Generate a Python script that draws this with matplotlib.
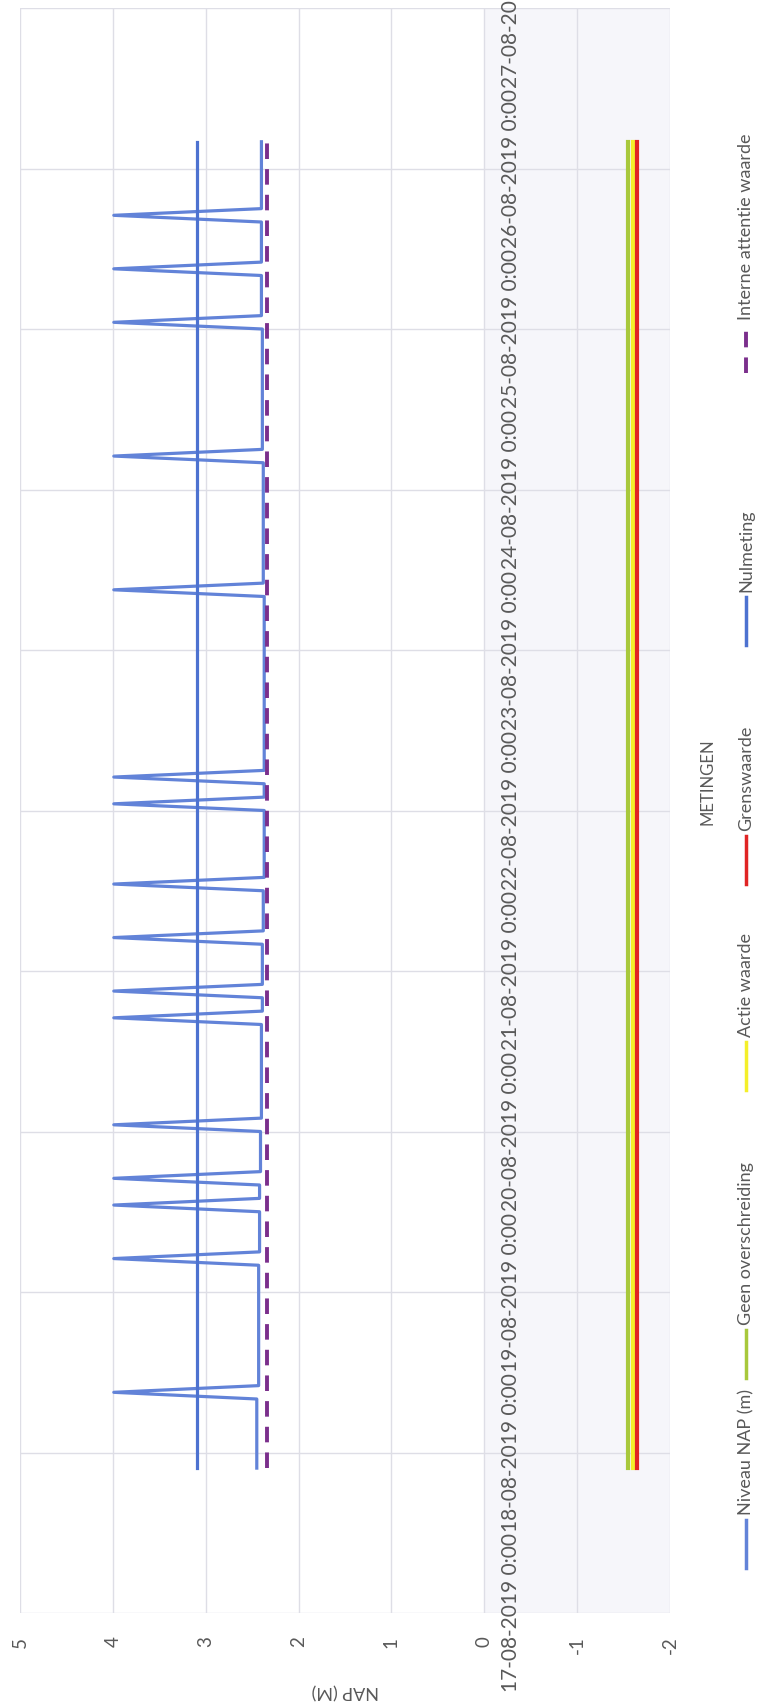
import matplotlib
matplotlib.use('Agg')
import matplotlib.pyplot as plt
from matplotlib.lines import Line2D
import pandas as pd

plt.rcParams['font.family'] = ['Lato', 'DejaVu Sans']

# category axis (one tick per day)
date_ticks = pd.date_range('2019-08-17', '2019-08-27', freq='D')
date_labels = [d.strftime('%d-%m-%Y') + ' 0:00' for d in date_ticks]
value_ticks = [5, 4, 3, 2, 1, 0, -1, -2]

# Niveau NAP (m) - hourly readings with short peaks
niveau_time = [
    '2019-08-17 21:40',
    '2019-08-18 08:00', '2019-08-18 09:00', '2019-08-18 10:00',
    '2019-08-19 04:00', '2019-08-19 05:00', '2019-08-19 06:00',
    '2019-08-19 12:00', '2019-08-19 13:00', '2019-08-19 14:00',
    '2019-08-19 16:00', '2019-08-19 17:00', '2019-08-19 18:00',
    '2019-08-20 00:00', '2019-08-20 01:00', '2019-08-20 02:00',
    '2019-08-20 16:00', '2019-08-20 17:00', '2019-08-20 18:00',
    '2019-08-20 20:00', '2019-08-20 21:00', '2019-08-20 22:00',
    '2019-08-21 04:00', '2019-08-21 05:00', '2019-08-21 06:00',
    '2019-08-21 12:00', '2019-08-21 13:00', '2019-08-21 14:00',
    '2019-08-22 00:00', '2019-08-22 01:00', '2019-08-22 02:00',
    '2019-08-22 04:00', '2019-08-22 05:00', '2019-08-22 06:00',
    '2019-08-23 08:00', '2019-08-23 09:00', '2019-08-23 10:00',
    '2019-08-24 04:00', '2019-08-24 05:00', '2019-08-24 06:00',
    '2019-08-25 00:00', '2019-08-25 01:00', '2019-08-25 02:00',
    '2019-08-25 08:00', '2019-08-25 09:00', '2019-08-25 10:00',
    '2019-08-25 16:00', '2019-08-25 17:00', '2019-08-25 18:00',
    '2019-08-26 04:00',
]
niveau_nap = [
    2.45,
    2.45, 3.99, 2.43,
    2.43, 3.99, 2.42,
    2.42, 3.99, 2.42,
    2.42, 3.99, 2.41,
    2.41, 3.99, 2.40,
    2.40, 3.99, 2.39,
    2.39, 3.99, 2.39,
    2.39, 3.99, 2.38,
    2.38, 3.99, 2.37,
    2.37, 3.99, 2.37,
    2.37, 3.99, 2.37,
    2.37, 3.99, 2.38,
    2.38, 3.99, 2.39,
    2.39, 3.99, 2.40,
    2.40, 3.99, 2.40,
    2.40, 3.99, 2.40,
    2.40,
]

# reference levels (start and end of the period)
ref_time = ['2019-08-17 21:40', '2019-08-26 04:00']
geen_overschreiding = [-1.55, -1.55]
actie_waarde = [-1.60, -1.60]
grenswaarde = [-1.645, -1.645]
nulmeting = [3.09, 3.09]
interne_attentie = [2.34, 2.34]

niveau_time = pd.to_datetime(niveau_time)
ref_time = pd.to_datetime(ref_time)

W, H = 759, 1703
fig = plt.figure(figsize=(W / 100, H / 100), dpi=100)
ax = fig.add_axes([20 / W, (H - 1613) / H, 650 / W, 1605 / H])

grey = '#595959'
ax.axvspan(0, -2, color='#f6f6fa', zorder=0, lw=0)

ax.plot(niveau_nap, niveau_time, color='#6283d8', lw=2.3, solid_joinstyle='round')
ax.plot(geen_overschreiding, ref_time, color='#a8c83c', lw=3)
ax.plot(actie_waarde, ref_time, color='#f4ef2a', lw=3)
ax.plot(grenswaarde, ref_time, color='#e02424', lw=3)
ax.plot(nulmeting, ref_time, color='#4d72d0', lw=2.3)
ax.plot(interne_attentie, ref_time, color='#7b2f8c', lw=2.8, dashes=(4, 2.6))

ax.set_xlim(5, -2)
ax.set_ylim(date_ticks[0], date_ticks[-1])
ax.set_xticks(value_ticks)
ax.set_xticklabels([str(v) for v in value_ticks])
ax.set_yticks(date_ticks)
ax.set_yticklabels(date_labels)
ax.grid(True, color='#dedee6', lw=1)
ax.set_axisbelow(True)
for s in ax.spines.values():
    s.set_visible(False)

ax.tick_params(axis='x', length=0, pad=17, labelsize=13.5, labelcolor=grey, labelrotation=90)

# date labels sit next to the value 0 line
ax.yaxis.tick_right()
ax.spines['right'].set_position(('data', 0))
ax.tick_params(axis='y', length=0, pad=12, labelsize=15, labelcolor=grey, labelrotation=90)
for lab in ax.get_yticklabels():
    lab.set_va('center')

ax.set_xlabel('NAP (M)', rotation=180, fontsize=13, color=grey, labelpad=20)

fig.text(708 / W, 1 - 782 / H, 'METINGEN', rotation=90, ha='center', va='center',
         fontsize=12, color=grey)

# legend, drawn turned like the rest of the chart
legend_names = ['Niveau NAP (m)', 'Geen overschreiding', 'Actie waarde',
                'Grenswaarde', 'Nulmeting', 'Interne attentie waarde']
legend_colors = ['#6283d8', '#a8c83c', '#f4ef2a', '#e02424', '#4d72d0', '#7b2f8c']
legend_text_start = [1515, 1325, 1037, 831, 592, 320]
lx = 746
for name, col, ts in zip(legend_names, legend_colors, legend_text_start):
    y0, y1 = ts + 53, ts + 5
    kw = dict(color=col, lw=2.5, transform=fig.transFigure)
    if name.startswith('Interne'):
        kw.update(lw=2.8, dashes=(4, 2.6))
    fig.add_artist(Line2D([lx / W, lx / W], [1 - y0 / H, 1 - y1 / H], **kw))
    fig.text(lx / W, 1 - ts / H, name, rotation=90, ha='center', va='bottom',
             fontsize=13, color=grey)

fig.savefig('out.png', dpi=100)
